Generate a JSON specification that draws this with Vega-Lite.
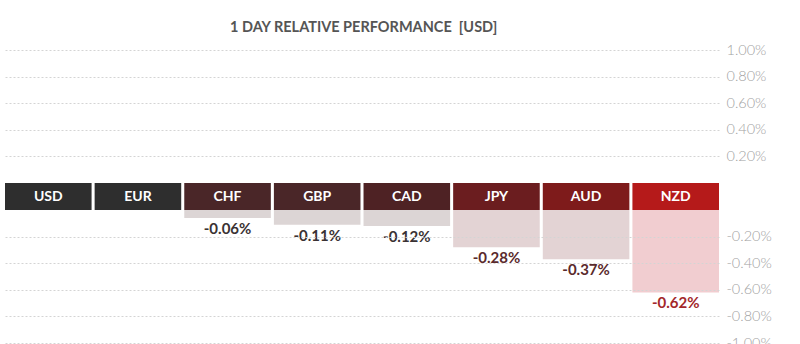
{
  "$schema": "https://vega.github.io/schema/vega-lite/v6.json",
  "background": "white",
  "padding": {"left": 5, "top": 19, "right": 5, "bottom": 5},
  "title": {"text": "1 DAY RELATIVE PERFORMANCE \u00a0[USD]", "font": "Lato", "fontSize": 14.5, "fontWeight": "bold", "color": "#555555", "anchor": "start", "dx": 225, "offset": 7},
  "config": {
    "view": {"stroke": null},
    "locale": {"number": {"decimal": ".", "thousands": ",", "grouping": [3], "currency": ["$", ""], "minus": "-"}},
    "axis": {"labelFont": "Lato", "labelFontSize": 14.5, "labelFontWeight": 300, "labelColor": "#a2a2a2", "domain": false, "ticks": false, "title": null, "gridColor": "#d4d4d4", "gridDash": [2, 2], "gridWidth": 1, "labelPadding": 7}
  },
  "data": {"values": [
    {"currency": "USD", "value": 0},
    {"currency": "EUR", "value": 0},
    {"currency": "CHF", "value": -0.0006},
    {"currency": "GBP", "value": -0.0011},
    {"currency": "CAD", "value": -0.0012},
    {"currency": "JPY", "value": -0.0028},
    {"currency": "AUD", "value": -0.0037},
    {"currency": "NZD", "value": -0.0062}
  ]},
  "spacing": 0,
  "vconcat": [
    {
      "width": 714, "height": 133,
      "mark": {"type": "bar", "clip": true},
      "encoding": {
        "x": {"field": "currency", "type": "nominal", "sort": null, "axis": null, "scale": {"paddingInner": 0.034, "paddingOuter": 0}},
        "y": {"field": "value", "type": "quantitative", "scale": {"domain": [0, 0.01]}, "axis": {"orient": "right", "values": [0.002, 0.004, 0.006, 0.008, 0.01], "format": ".2%"}},
        "color": {"value": "#dcd5d5"}
      }
    },
    {
      "width": 714, "height": 27,
      "encoding": {
        "x": {"field": "currency", "type": "nominal", "sort": null, "axis": null, "scale": {"paddingInner": 0.034, "paddingOuter": 0}}
      },
      "layer": [
        {
          "mark": {"type": "rect"},
          "encoding": {
            "color": {"field": "currency", "type": "nominal", "legend": null, "scale": {"domain": ["USD", "EUR", "CHF", "GBP", "CAD", "JPY", "AUD", "NZD"], "range": ["#2e2e2e", "#2e2e2e", "#4a2628", "#4a2628", "#4e2224", "#6b1d1f", "#7e1b1b", "#b51a1a"]}}
          }
        },
        {
          "mark": {"type": "text", "font": "Lato", "fontSize": 14, "fontWeight": "bold", "color": "white", "baseline": "middle"},
          "encoding": {"text": {"field": "currency"}}
        }
      ]
    },
    {
      "width": 714, "height": 133,
      "encoding": {
        "x": {"field": "currency", "type": "nominal", "sort": null, "axis": null, "scale": {"paddingInner": 0.034, "paddingOuter": 0}},
        "y": {"field": "value", "type": "quantitative", "scale": {"domain": [-0.01, 0]}, "axis": {"orient": "right", "values": [-0.002, -0.004, -0.006, -0.008, -0.01], "format": ".2%", "zindex": 1}}
      },
      "layer": [
        {
          "mark": {"type": "bar"},
          "encoding": {
            "color": {"field": "currency", "type": "nominal", "legend": null, "scale": {"domain": ["USD", "EUR", "CHF", "GBP", "CAD", "JPY", "AUD", "NZD"], "range": ["#dcd5d5", "#dcd5d5", "#dcd5d5", "#dcd5d5", "#dcd5d5", "#e3d3d4", "#e3d3d4", "#f1cdd0"]}}
          }
        },
        {
          "transform": [{"filter": "datum.value < 0"}],
          "mark": {"type": "text", "font": "Lato", "fontSize": 15, "fontWeight": "bold", "baseline": "top", "dy": 4},
          "encoding": {
            "text": {"field": "value", "type": "quantitative", "format": ".2%"},
            "color": {"field": "currency", "type": "nominal", "legend": null, "scale": {"domain": ["USD", "EUR", "CHF", "GBP", "CAD", "JPY", "AUD", "NZD"], "range": ["#3a3233", "#3a3233", "#3a3233", "#3a3233", "#3a3233", "#5a2a2c", "#5a2a2c", "#a3282a"]}}
          }
        }
      ],
      "resolve": {"scale": {"color": "independent"}}
    }
  ],
  "resolve": {"scale": {"color": "independent"}}
}
